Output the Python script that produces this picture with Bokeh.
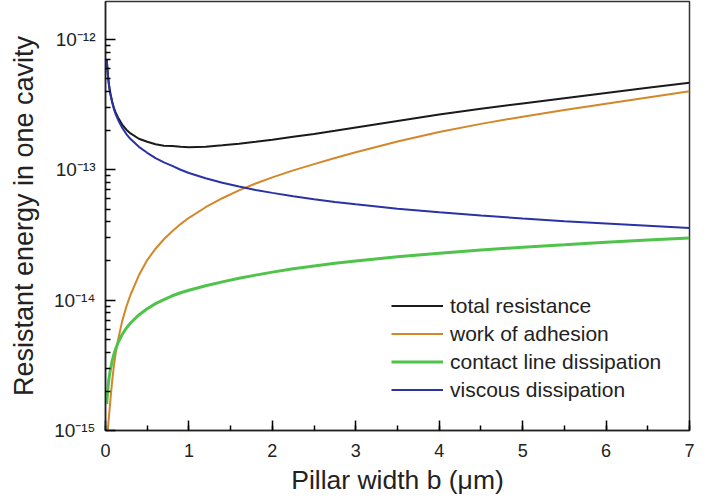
from bokeh.plotting import figure
from bokeh.models import Range1d, SingleIntervalTicker, FixedTicker, Legend, LegendItem
from bokeh.embed import file_html
from bokeh.resources import INLINE

# ---- data ----
b = [0.015, 0.02, 0.03, 0.04, 0.05, 0.06, 0.08, 0.1, 0.12, 0.15, 0.2, 0.25, 0.3, 0.4,
     0.5, 0.6, 0.7, 0.8, 0.9, 1.0, 1.2, 1.4, 1.6, 1.8, 2.0, 2.25, 2.5, 2.75, 3.0, 3.5,
     4.0, 4.5, 5.0, 5.5, 6.0, 6.5, 7.0]

viscous = [7.0e-13, 6.3e-13, 5.2e-13, 4.55e-13, 4.1e-13, 3.76e-13, 3.28e-13, 2.93e-13,
           2.69e-13, 2.42e-13, 2.10e-13, 1.88e-13, 1.72e-13, 1.50e-13, 1.35e-13, 1.23e-13,
           1.14e-13, 1.07e-13, 1.0e-13, 9.45e-14, 8.6e-14, 7.95e-14, 7.43e-14, 7.0e-14,
           6.65e-14, 6.27e-14, 5.95e-14, 5.67e-14, 5.43e-14, 5.03e-14, 4.72e-14, 4.45e-14,
           4.23e-14, 4.03e-14, 3.87e-14, 3.72e-14, 3.58e-14]

adhesion = [6.0e-16, 8.0e-16, 1.05e-15, 1.25e-15, 1.48e-15, 1.75e-15, 2.4e-15, 3.1e-15,
            3.82e-15, 4.95e-15, 6.9e-15, 8.92e-15, 1.10e-14, 1.55e-14, 2.03e-14, 2.48e-14,
            2.93e-14, 3.38e-14, 3.83e-14, 4.28e-14, 5.16e-14, 6.05e-14, 6.95e-14, 7.85e-14,
            8.75e-14, 9.9e-14, 1.105e-13, 1.23e-13, 1.363e-13, 1.647e-13, 1.95e-13, 2.25e-13,
            2.555e-13, 2.87e-13, 3.215e-13, 3.59e-13, 4.0e-13]

contact = [1.6e-15, 1.8e-15, 2.15e-15, 2.45e-15, 2.72e-15, 2.95e-15, 3.42e-15, 3.83e-15,
           4.2e-15, 4.7e-15, 5.45e-15, 6.1e-15, 6.68e-15, 7.7e-15, 8.6e-15, 9.4e-15,
           1.01e-14, 1.08e-14, 1.14e-14, 1.19e-14, 1.29e-14, 1.38e-14, 1.47e-14, 1.555e-14,
           1.64e-14, 1.74e-14, 1.83e-14, 1.915e-14, 2.0e-14, 2.15e-14, 2.29e-14, 2.42e-14,
           2.55e-14, 2.66e-14, 2.78e-14, 2.89e-14, 3.0e-14]

total = [7.02e-13, 6.33e-13, 5.23e-13, 4.59e-13, 4.14e-13, 3.81e-13, 3.34e-13, 3.0e-13,
         2.77e-13, 2.52e-13, 2.22e-13, 2.03e-13, 1.90e-13, 1.73e-13, 1.64e-13, 1.57e-13,
         1.53e-13, 1.52e-13, 1.50e-13, 1.49e-13, 1.505e-13, 1.54e-13, 1.585e-13, 1.64e-13,
         1.70e-13, 1.79e-13, 1.88e-13, 1.99e-13, 2.11e-13, 2.37e-13, 2.65e-13, 2.94e-13,
         3.23e-13, 3.54e-13, 3.88e-13, 4.25e-13, 4.66e-13]

series_labels = ["total resistance", "work of adhesion", "contact line dissipation",
                 "viscous dissipation"]
y_decades = [-15, -14, -13, -12]
y_tick_labels = ["10\u207b\u00b9\u2075", "10\u207b\u00b9\u2074", "10\u207b\u00b9\u00b3",
                 "10\u207b\u00b9\u00b2"]
x_title = "Pillar width b (\u03bcm)"
y_title = "Resistant energy in one cavity"

# ---- layout constants ----
FONT = "Liberation Sans"
TXT = "#222222"
PX_PER_DEC = 392 / 3.0
FRAME_H = 430
y_top = 10 ** (-15 + FRAME_H / PX_PER_DEC)

p = figure(width=716, height=497, output_backend="svg", toolbar_location=None,
           y_axis_type="log", x_range=Range1d(0, 7), y_range=Range1d(1e-15, y_top),
           min_border_left=105, min_border_right=27, min_border_top=1,
           min_border_bottom=66)
p.background_fill_color = "white"
p.border_fill_color = "white"
p.grid.visible = False
p.outline_line_color = "#333333"
p.outline_line_width = 1.5

for ax in (p.xaxis, p.yaxis):
    ax.major_tick_in = 10
    ax.major_tick_out = 0
    ax.minor_tick_in = 5
    ax.minor_tick_out = 0
    ax.axis_line_width = 1.5
    ax.axis_line_color = "#222222"
    ax.major_tick_line_width = 1.5
    ax.minor_tick_line_width = 1.5
    ax.major_label_text_font = FONT
    ax.major_label_text_font_size = "18px"
    ax.major_label_text_color = TXT
    ax.axis_label_text_font = FONT
    ax.axis_label_text_font_style = "normal"
    ax.axis_label_text_color = TXT

# x axis
p.xaxis.ticker = SingleIntervalTicker(interval=1, num_minor_ticks=2)
p.xaxis.major_label_standoff = 13
p.xaxis.axis_label = x_title
p.xaxis.axis_label_text_font_size = "26.5px"
p.xaxis.axis_label_standoff = 5

# y axis
minor = []
for d in y_decades[:-1]:
    for m in range(2, 10):
        minor.append(m * 10.0 ** d)
for m in range(2, 10):
    if m * 1e-12 < y_top:
        minor.append(m * 1e-12)
major = [10.0 ** d for d in y_decades]
p.yaxis.ticker = FixedTicker(ticks=major, minor_ticks=minor)
p.yaxis.major_label_overrides = {t: s for t, s in zip(major, y_tick_labels)}
p.yaxis.major_label_text_font_size = "19px"
p.yaxis.major_label_standoff = 10
p.yaxis.axis_label = y_title
p.yaxis.axis_label_text_font_size = "27px"
p.yaxis.axis_label_standoff = 12

# lines
colors = ["#1a1a1a", "#d4872a", "#4fc34a", "#2a33a6"]
widths = [2, 2, 3, 2]
ys = [total, adhesion, contact, viscous]
renderers = []
for yv, c, w in zip(ys, colors, widths):
    renderers.append(p.line(b, yv, line_color=c, line_width=w))

legend = Legend(items=[LegendItem(label=l, renderers=[r]) for l, r in zip(series_labels, renderers)],
                location=(286, 28), border_line_alpha=0, background_fill_alpha=0,
                label_text_font=FONT, label_text_font_size="21px", label_text_color=TXT,
                glyph_width=52, glyph_height=25, label_height=25, spacing=3,
                padding=0, margin=0, label_standoff=7)
p.add_layout(legend)

open("out.html", "w").write(file_html(p, INLINE))
